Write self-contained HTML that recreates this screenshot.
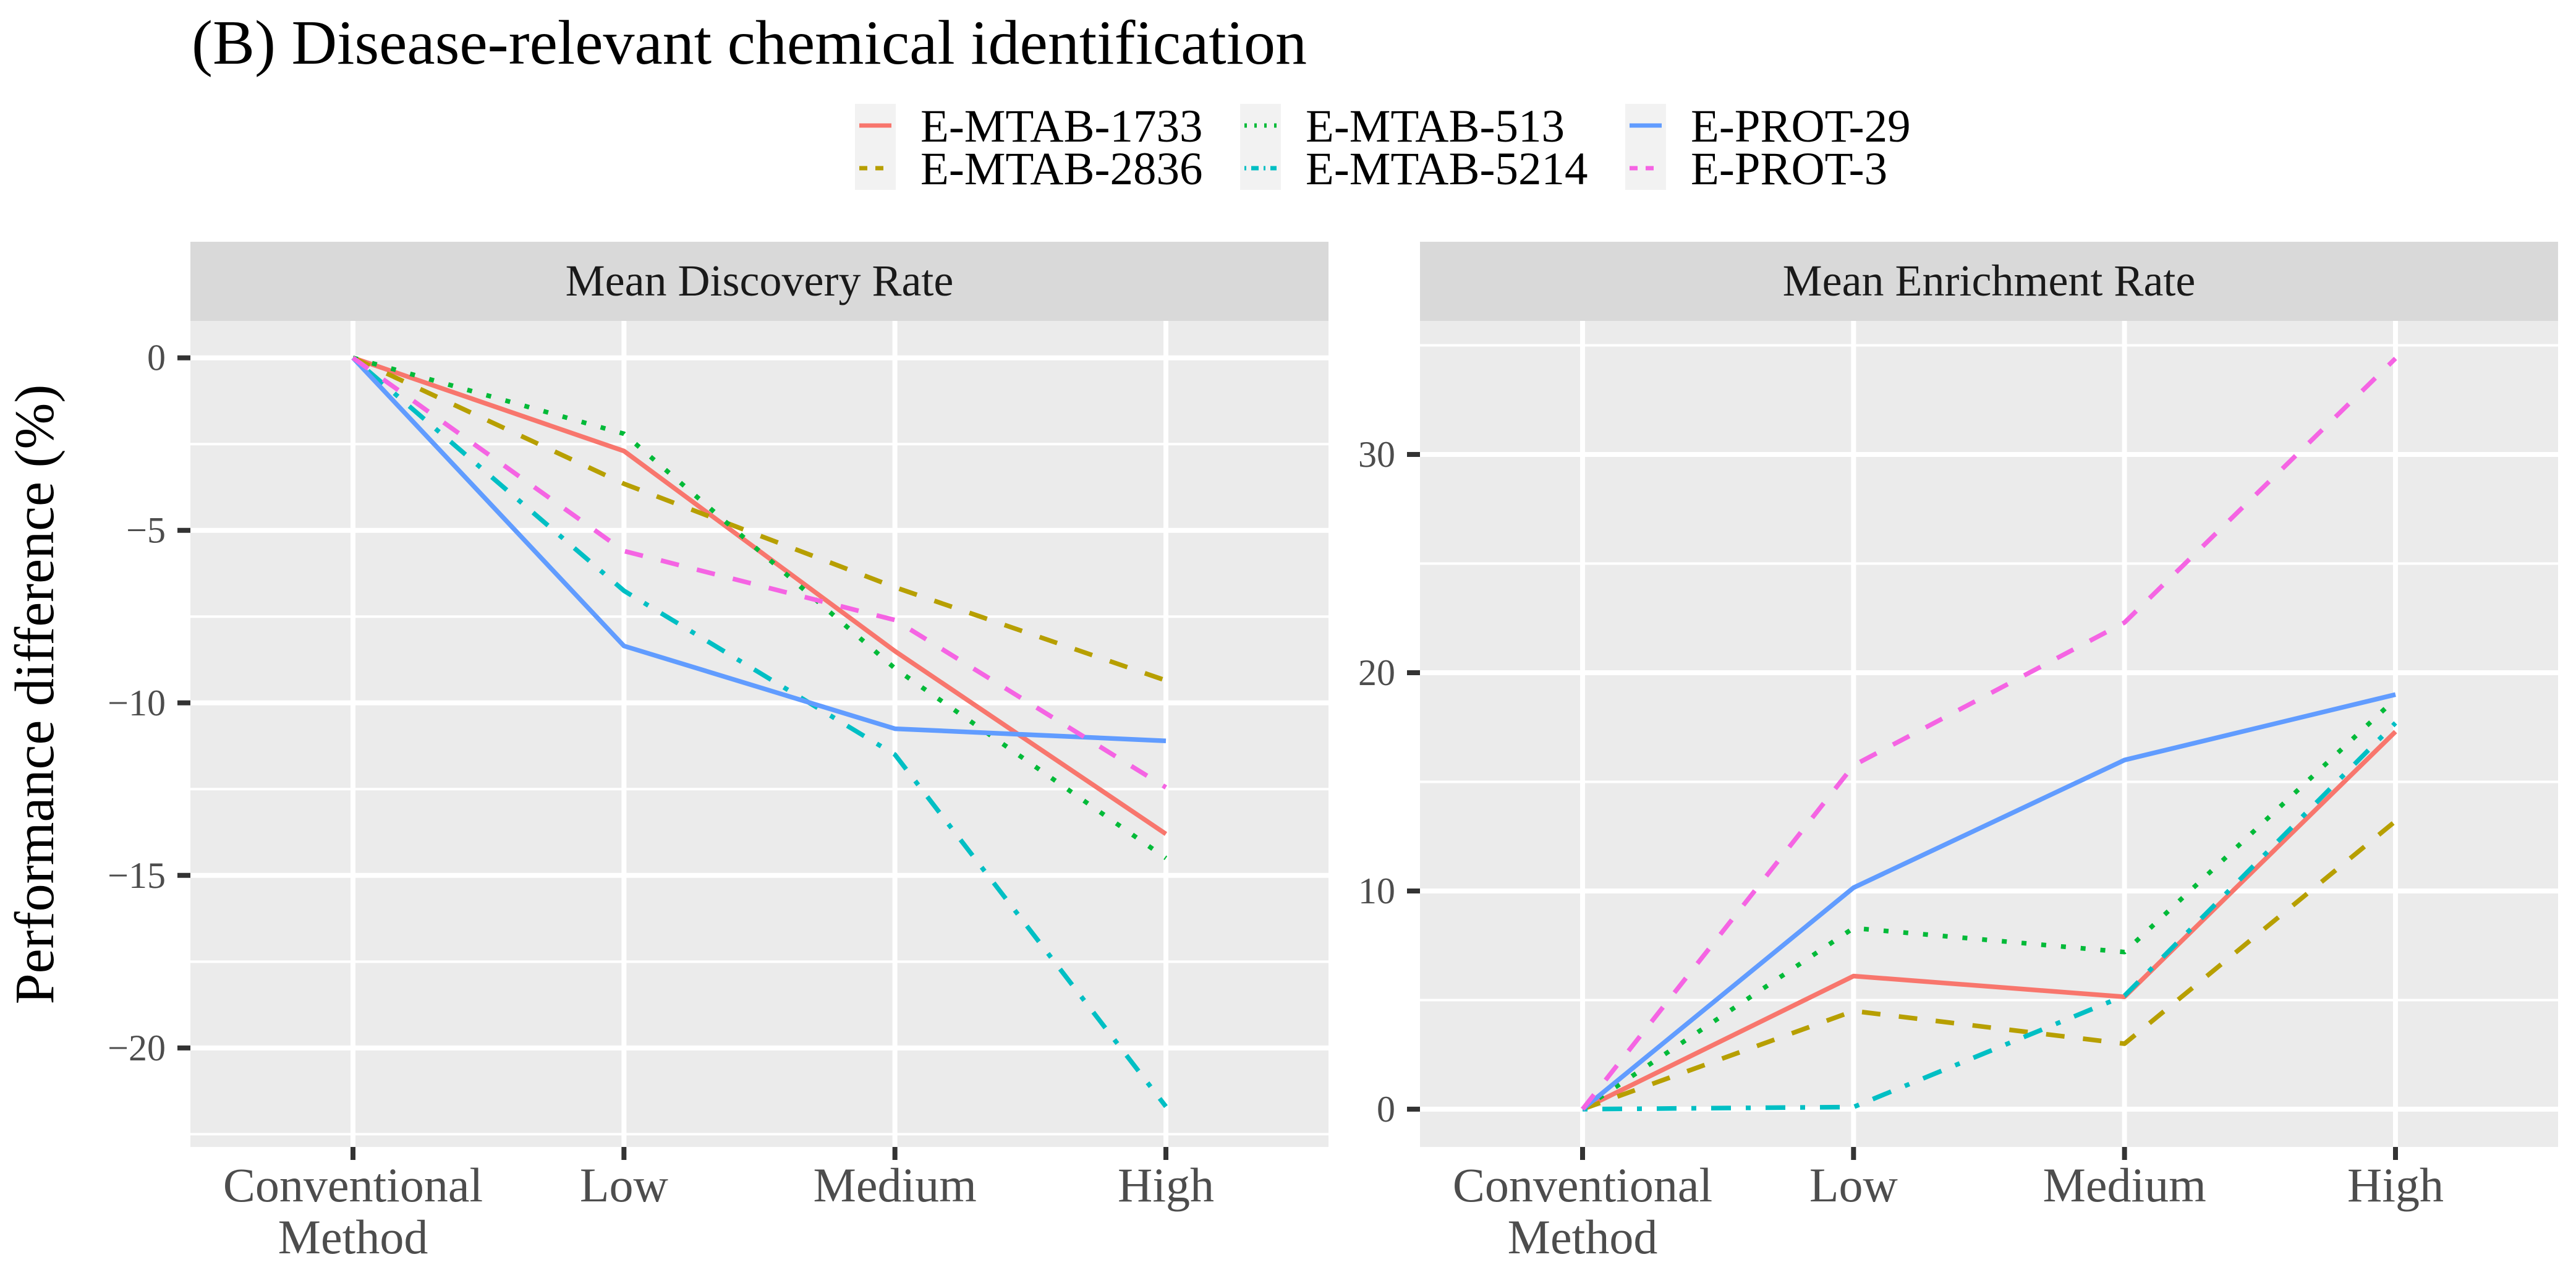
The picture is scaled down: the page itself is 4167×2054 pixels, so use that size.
<!DOCTYPE html>
<html><head><meta charset="utf-8"><style>
html,body{margin:0;padding:0;background:#fff;}
svg{display:block;font-family:"Liberation Serif","Times New Roman",serif;}
</style></head><body>
<svg id="chart" width="4167" height="2054" viewBox="0 0 4167 2054" xmlns="http://www.w3.org/2000/svg">
<text x="310" y="103" font-size="102" fill="#000">(B) Disease-relevant chemical identification</text>
<g id="legend"></g>
<g id="panels"></g>
<text transform="translate(86,1123) rotate(-90)" text-anchor="middle" font-size="90" fill="#000">Performance difference (%)</text>
</svg>
<script>
const categories = ["Conventional Method","Low","Medium","High"];
const seriesNames = ["E-MTAB-1733","E-MTAB-2836","E-MTAB-513","E-MTAB-5214","E-PROT-29","E-PROT-3"];
const discovery1733 = [0,-2.7,-8.5,-13.8];
const discovery2836 = [0,-3.65,-6.65,-9.35];
const discovery513 = [0,-2.2,-9.0,-14.5];
const discovery5214 = [0,-6.75,-11.5,-21.7];
const discoveryP29 = [0,-8.35,-10.75,-11.1];
const discoveryP3 = [0,-5.6,-7.6,-12.45];
const enrich1733 = [0,6.1,5.15,17.3];
const enrich2836 = [0,4.5,3.0,13.2];
const enrich513 = [0,8.3,7.2,18.8];
const enrich5214 = [0,0.1,5.2,17.7];
const enrichP29 = [0,10.15,16.0,19.0];
const enrichP3 = [0,15.75,22.3,34.4];
const leftTicks = [0,-5,-10,-15,-20];
const rightTicks = [0,10,20,30];

const NS="http://www.w3.org/2000/svg";
const colors=["#F8766D","#B79F00","#00BA38","#00BFC4","#619CFF","#F564E3"];
const dashes=["","30 30","8 24","8 24 32 24","","30 30"];
function mk(tag,attrs,parent){const e=document.createElementNS(NS,tag);for(const k in attrs)e.setAttribute(k,attrs[k]);parent.appendChild(e);return e;}
const panelsG=document.getElementById('panels');

const panels=[
 {name:"Mean Discovery Rate",slug:"discovery",x0:308,ymin:-22.87,ymax:1.07,ticks:leftTicks,minorStep:2.5,
  data:[discovery1733,discovery2836,discovery513,discovery5214,discoveryP29,discoveryP3]},
 {name:"Mean Enrichment Rate",slug:"enrichment",x0:2297,ymin:-1.73,ymax:36.12,ticks:rightTicks,minorStep:5,
  data:[enrich1733,enrich2836,enrich513,enrich5214,enrichP29,enrichP3]}
];
const PW=1841, pTop=519, pBottom=1855, stripTop=391;
panels.forEach(p=>{
  const g=mk('g',{},panelsG);
  
  
  const xs=i=>p.x0+PW*(i+1-0.4)/4.2;
  const ys=v=>pBottom-(v-p.ymin)/(p.ymax-p.ymin)*(pBottom-pTop);
  const strip=mk('rect',{x:p.x0,y:stripTop,width:PW,height:pTop-stripTop,fill:"#D9D9D9"},g);
  
  
  const st=mk('text',{x:p.x0+PW/2,y:(stripTop+pTop)/2+23,'text-anchor':'middle','font-size':72,fill:'#1A1A1A'},g);
  st.textContent=p.name;
  
  
  const bg=mk('rect',{x:p.x0,y:pTop,width:PW,height:pBottom-pTop,fill:"#EBEBEB"},g);
  
  
  const start=Math.ceil(p.ymin/p.minorStep)*p.minorStep;
  for(let v=start;v<=p.ymax;v+=p.minorStep){
    const y=ys(v);
    const l=mk('line',{x1:p.x0,x2:p.x0+PW,y1:y,y2:y,stroke:'#fff','stroke-width':4},g);
    
    
  }
  p.ticks.forEach(t=>{
    const y=ys(t);
    const l=mk('line',{x1:p.x0,x2:p.x0+PW,y1:y,y2:y,stroke:'#fff','stroke-width':8},g);
    
    
    const tk=mk('line',{x1:p.x0-21,x2:p.x0,y1:y,y2:y,stroke:'#333','stroke-width':8},g);
    
    
    const tl=mk('text',{x:p.x0-40,y:y+20,'text-anchor':'end','font-size':60,fill:'#4D4D4D'},g);
    tl.textContent=t<0?'\u2212'+Math.abs(t):String(t);
    
    
  });
  categories.forEach((c,i)=>{
    const x=xs(i);
    const l=mk('line',{x1:x,x2:x,y1:pTop,y2:pBottom,stroke:'#fff','stroke-width':8},g);
    
    
    const tk=mk('line',{x1:x,x2:x,y1:pBottom,y2:pBottom+21,stroke:'#333','stroke-width':8},g);
    
    
    const parts=c==="Conventional Method"?["Conventional","Method"]:[c];
    parts.forEach((s,k)=>{
      const tl=mk('text',{x:x,y:1943+k*84,'text-anchor':'middle','font-size':78,fill:'#4D4D4D'},g);
      tl.textContent=s;
      
      
    });
  });
  p.data.forEach((arr,si)=>{
    const pts=arr.map((v,i)=>xs(i).toFixed(1)+','+ys(v).toFixed(1)).join(' ');
    const a={points:pts,fill:'none',stroke:colors[si],'stroke-width':7.5,'stroke-linejoin':'round'};
    if(dashes[si])a['stroke-dasharray']=dashes[si];
    const pl=mk('polyline',a,g);
    
    
  });
});

const lg=document.getElementById('legend');
const colX=[1383,2006,2629], rowY=[203,272];
seriesNames.forEach((n,i)=>{
  const c=Math.floor(i/2), r=i%2;
  const kx=colX[c], cy=rowY[r];
  const bx=mk('rect',{x:kx,y:cy-35,width:66,height:70,fill:'#F2F2F2'},lg);
  
  
  const a={x1:kx+7,x2:kx+59,y1:cy,y2:cy,stroke:colors[i],'stroke-width':7};
  if(dashes[i])a['stroke-dasharray']=dashes[i]==="30 30"?"13 13":(dashes[i]==="8 24"?"4 12":"3 8 12 8");
  const kl=mk('line',a,lg);
  
  
  const t=mk('text',{x:kx+106,y:cy+26,'font-size':75,fill:'#000'},lg);
  t.textContent=n;
  
  
});
</script>
</body></html>
